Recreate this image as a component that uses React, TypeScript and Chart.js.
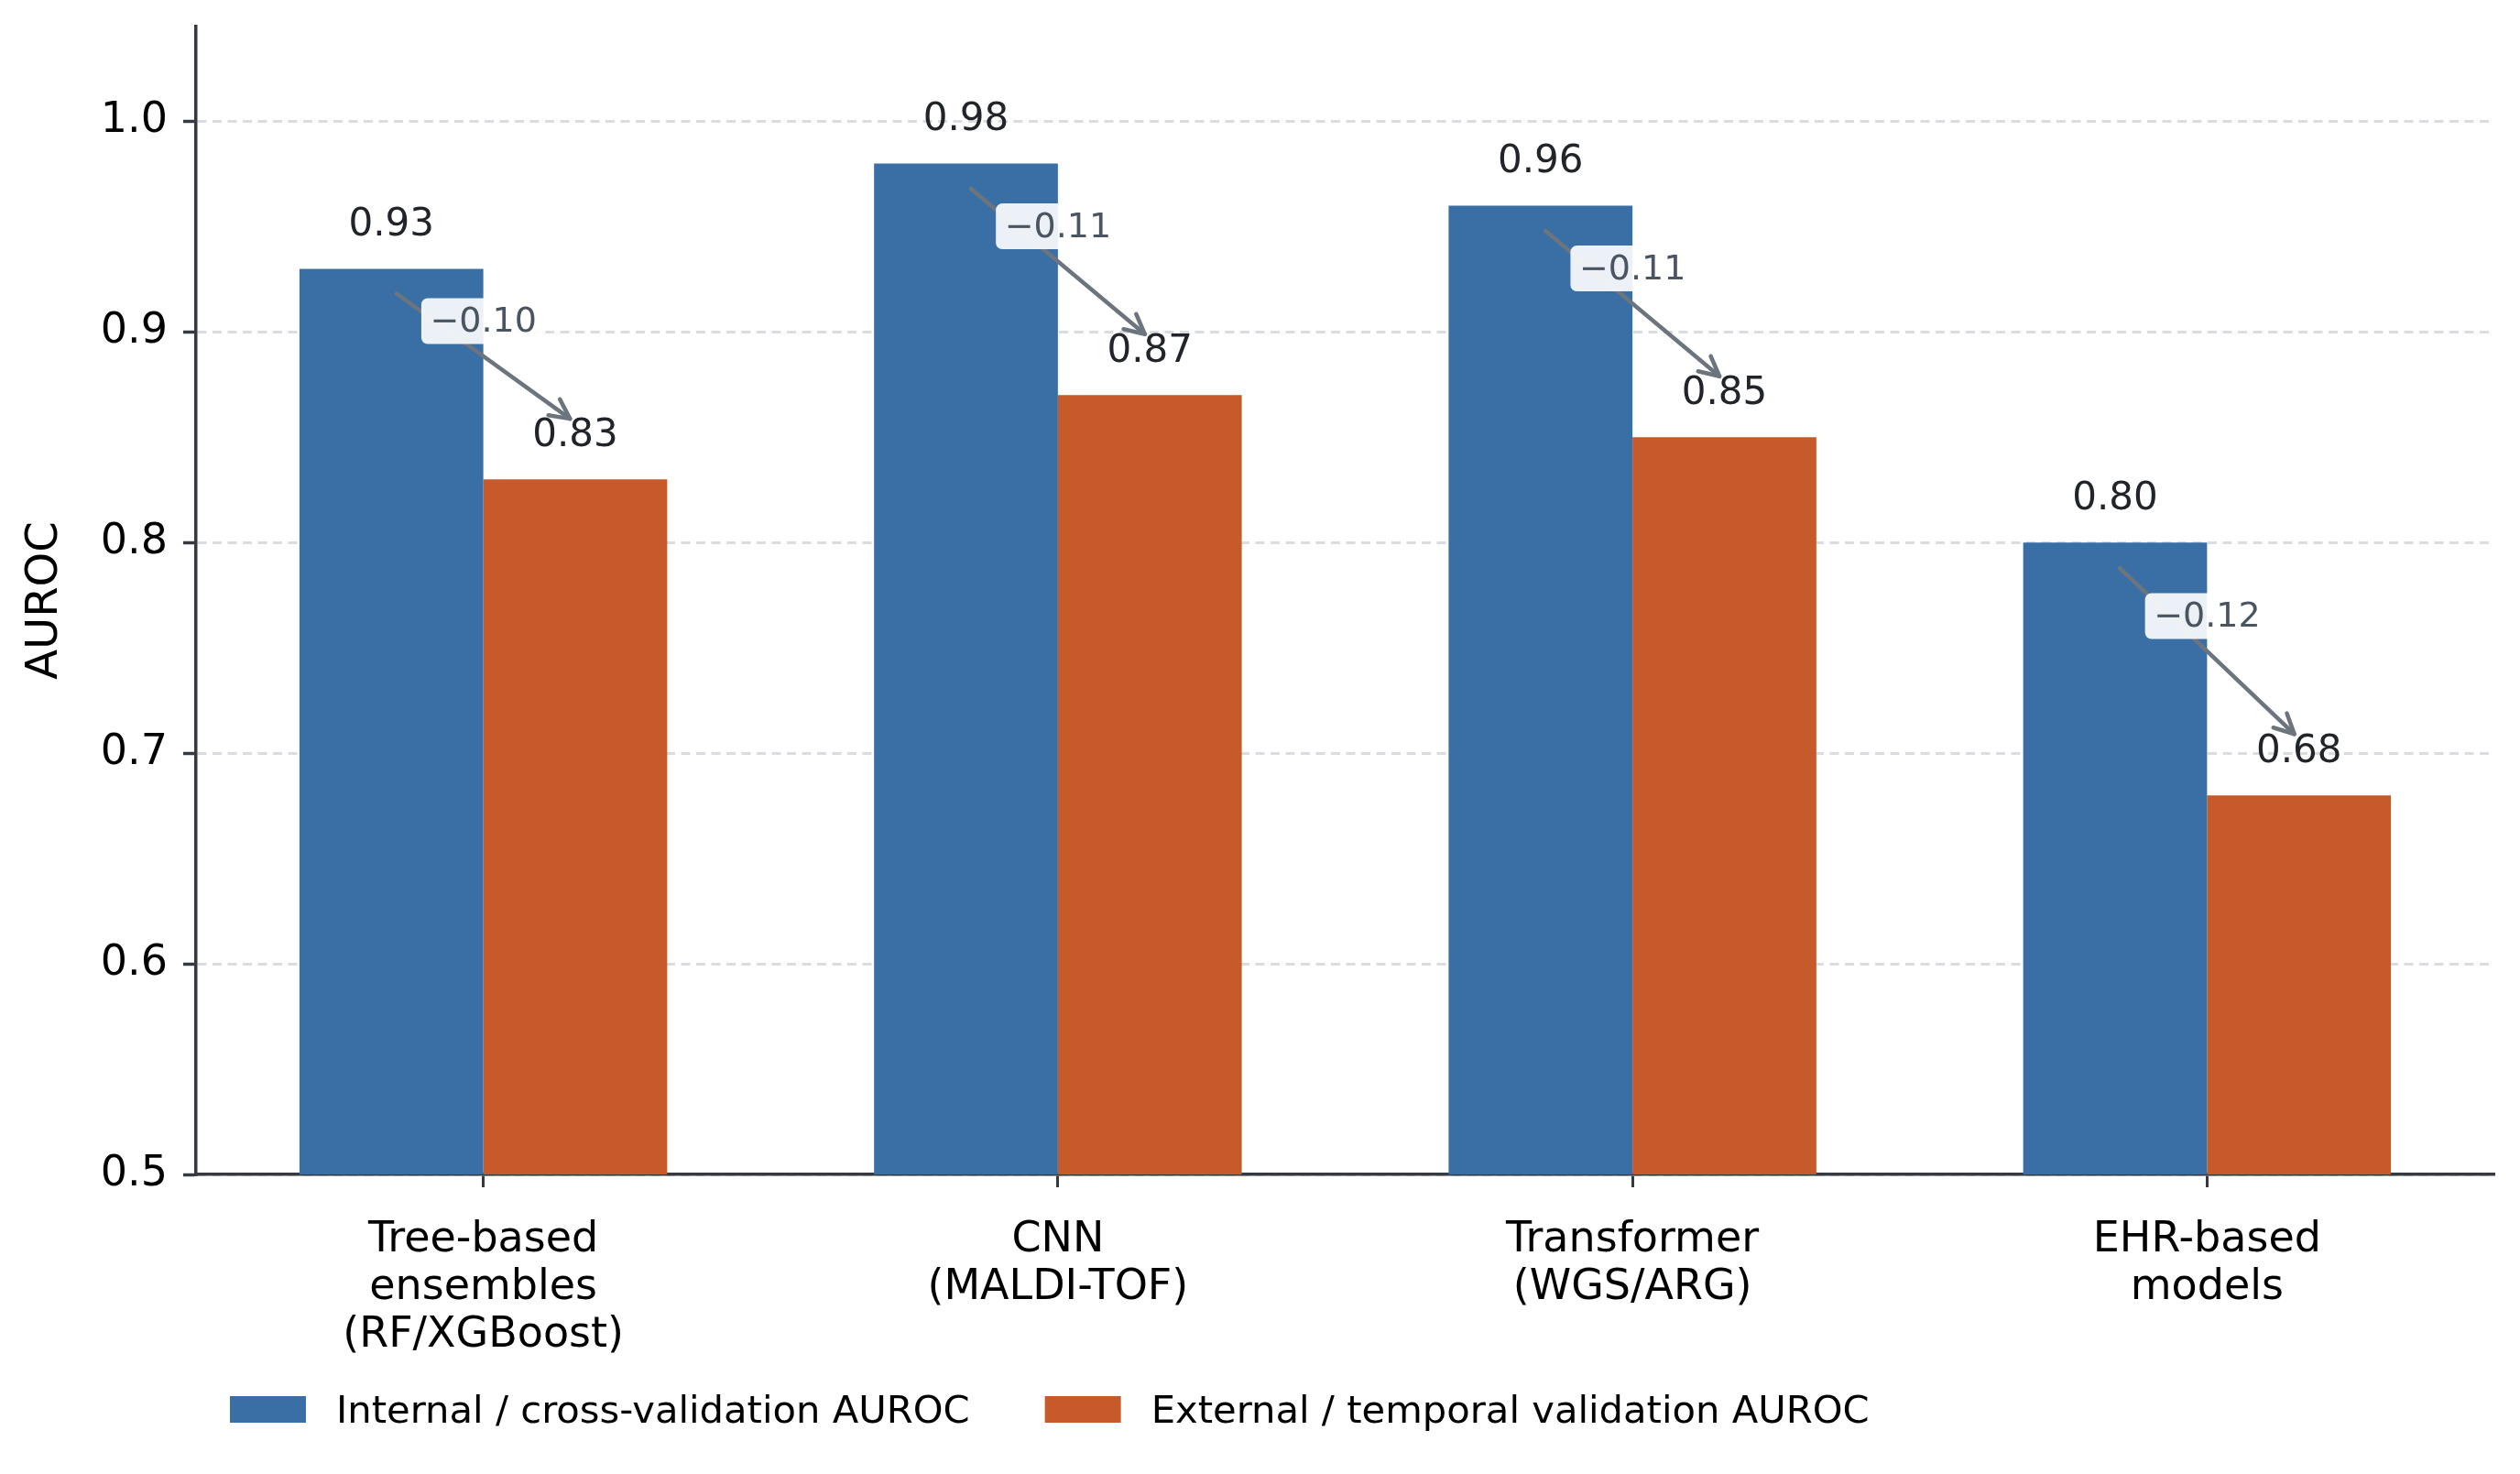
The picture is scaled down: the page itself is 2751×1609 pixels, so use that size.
import React, { useEffect, useRef } from "react";
import { Chart, registerables } from "chart.js";

Chart.register(...registerables);

const FONT = "'DejaVu Sans', 'Liberation Sans', sans-serif";

const CATEGORIES: string[][] = [
  ["Tree-based", "ensembles", "(RF/XGBoost)"],
  ["CNN", "(MALDI-TOF)"],
  ["Transformer", "(WGS/ARG)"],
  ["EHR-based", "models"],
];
const INTERNAL = [0.93, 0.98, 0.96, 0.8];
const EXTERNAL = [0.83, 0.87, 0.85, 0.68];
const SERIES_LABELS = [
  "Internal / cross-validation AUROC",
  "External / temporal validation AUROC",
];
const Y_TICKS = [0.5, 0.6, 0.7, 0.8, 0.9, 1.0];
const Y_MIN = 0.5;
const Y_MAX = 1.045;

const BLUE = "#3A6FA6";
const ORANGE = "#C65A2B";
const AXIS = "#343a40";
const GRID = "#d9dde2";
const ARROW = "#6c757d";

const W = 2751;
const H = 1609;

const annotPlugin = {
  id: "annot",
  afterDatasetsDraw(chart: any) {
    const ctx: CanvasRenderingContext2D = chart.ctx;
    const ys = chart.scales.y;
    const xs = chart.scales.x;
    const m0 = chart.getDatasetMeta(0);
    const m1 = chart.getDatasetMeta(1);
    ctx.save();

    // value labels
    ctx.font = `42px ${FONT}`;
    ctx.fillStyle = "#212529";
    ctx.textAlign = "center";
    ctx.textBaseline = "alphabetic";
    [m0, m1].forEach((m: any, di: number) => {
      m.data.forEach((bar: any, i: number) => {
        const v = chart.data.datasets[di].data[i] as number;
        ctx.fillText(v.toFixed(2), bar.x, ys.getPixelForValue(v + 0.0158));
      });
    });

    // arrows + delta boxes
    for (let i = 0; i < INTERNAL.length; i++) {
      const a = INTERNAL[i];
      const b = EXTERNAL[i];
      let x0 = m0.data[i].x;
      let y0 = ys.getPixelForValue(a - 0.01);
      let x1 = m1.data[i].x;
      let y1 = ys.getPixelForValue(b + 0.027);
      const th = Math.atan2(y1 - y0, x1 - x0);
      const sh = 7;
      x0 += sh * Math.cos(th);
      y0 += sh * Math.sin(th);
      x1 -= sh * Math.cos(th);
      y1 -= sh * Math.sin(th);
      ctx.strokeStyle = ARROW;
      ctx.lineWidth = 4.5;
      ctx.lineCap = "round";
      ctx.lineJoin = "round";
      ctx.beginPath();
      ctx.moveTo(x0, y0);
      ctx.lineTo(x1, y1);
      ctx.stroke();
      const L = 24;
      const ang = (26.6 * Math.PI) / 180;
      ctx.beginPath();
      ctx.moveTo(x1 - L * Math.cos(th - ang), y1 - L * Math.sin(th - ang));
      ctx.lineTo(x1, y1);
      ctx.lineTo(x1 - L * Math.cos(th + ang), y1 - L * Math.sin(th + ang));
      ctx.stroke();

      const cx = xs.getPixelForValue(i);
      const cy = ys.getPixelForValue((a + b) / 2 + 0.026);
      const txt = "\u2212" + (a - b).toFixed(2);
      ctx.font = `38px ${FONT}`;
      const tw = ctx.measureText(txt).width;
      const pad = 9.5;
      const bw = tw + 2 * pad;
      const bh = 50;
      ctx.fillStyle = "rgba(255,255,255,0.9)";
      ctx.beginPath();
      (ctx as any).roundRect(cx - bw / 2, cy - bh / 2 + 2, bw, bh, 7);
      ctx.fill();
      ctx.fillStyle = "#4a5561";
      ctx.textAlign = "center";
      ctx.textBaseline = "alphabetic";
      ctx.fillText(txt, cx, cy + 0.364 * 38);
    }
    ctx.restore();
  },
  afterDraw(chart: any) {
    const ctx: CanvasRenderingContext2D = chart.ctx;
    ctx.save();
    ctx.font = `41.7px ${FONT}`;
    ctx.textAlign = "left";
    ctx.textBaseline = "alphabetic";
    let x = 251;
    chart.data.datasets.forEach((ds: any) => {
      ctx.fillStyle = ds.backgroundColor;
      ctx.fillRect(x, 1524, 83, 29);
      ctx.fillStyle = "#000000";
      const tx = x + 83 + 33;
      ctx.fillText(ds.label, tx, 1553);
      x = tx + ctx.measureText(ds.label).width + 82;
    });
    ctx.restore();
  },
};

export default function App() {
  const ref = useRef<HTMLCanvasElement | null>(null);

  useEffect(() => {
    if (!ref.current) return;
    const chart = new Chart(ref.current, {
      type: "bar",
      data: {
        labels: CATEGORIES,
        datasets: [
          {
            label: SERIES_LABELS[0],
            data: INTERNAL,
            backgroundColor: BLUE,
            borderWidth: 0,
            barPercentage: 1,
            categoryPercentage: 0.64,
          },
          {
            label: SERIES_LABELS[1],
            data: EXTERNAL,
            backgroundColor: ORANGE,
            borderWidth: 0,
            barPercentage: 1,
            categoryPercentage: 0.64,
          },
        ],
      },
      options: {
        responsive: false,
        animation: false,
        devicePixelRatio: 1,
        layout: {
          autoPadding: false,
          padding: { left: 0, right: 28, top: 29, bottom: 0 },
        },
        plugins: {
          legend: { display: false },
          tooltip: { enabled: false },
          title: { display: false },
        },
        scales: {
          x: {
            type: "category",
            offset: true,
            grid: {
              display: true,
              drawOnChartArea: false,
              drawTicks: true,
              offset: false,
              tickLength: 14,
              tickWidth: 3,
              tickColor: AXIS,
              color: AXIS,
            },
            border: { display: true, color: AXIS, width: 3.5 },
            ticks: {
              autoSkip: false,
              maxRotation: 0,
              minRotation: 0,
              padding: 32.5,
              color: "#000000",
              font: { family: FONT, size: 46, lineHeight: "51.7px" },
            },
            afterFit: (s: any) => {
              s.height = 327;
              s.paddingLeft = 0;
              s.paddingRight = 0;
            },
          },
          y: {
            type: "linear",
            min: Y_MIN,
            max: Y_MAX,
            afterBuildTicks: (s: any) => {
              s.ticks = Y_TICKS.map((v) => ({ value: v }));
            },
            grid: {
              display: true,
              drawOnChartArea: true,
              drawTicks: true,
              color: GRID,
              lineWidth: 3,
              tickLength: 14,
              tickWidth: 3.5,
              tickColor: AXIS,
            },
            border: { display: true, color: AXIS, width: 3.5, dash: [10, 6.5] },
            ticks: {
              padding: 17,
              color: "#000000",
              font: { family: FONT, size: 46 },
              callback: (v: any) => Number(v).toFixed(1),
            },
            title: {
              display: true,
              text: "AUROC",
              color: "#000000",
              font: { family: FONT, size: 48 },
              padding: { top: 21, bottom: 0 },
            },
            afterFit: (s: any) => {
              s.width = 214;
              s.paddingTop = 0;
              s.paddingBottom = 0;
            },
          },
        },
      } as any,
      plugins: [annotPlugin as any],
    });
    return () => chart.destroy();
  }, []);

  return (
    <div
      style={{
        position: "fixed",
        left: 0,
        top: 0,
        width: W,
        height: H,
        background: "#ffffff",
      }}
    >
      <canvas ref={ref} width={W} height={H} style={{ width: W, height: H, display: "block" }} />
    </div>
  );
}
